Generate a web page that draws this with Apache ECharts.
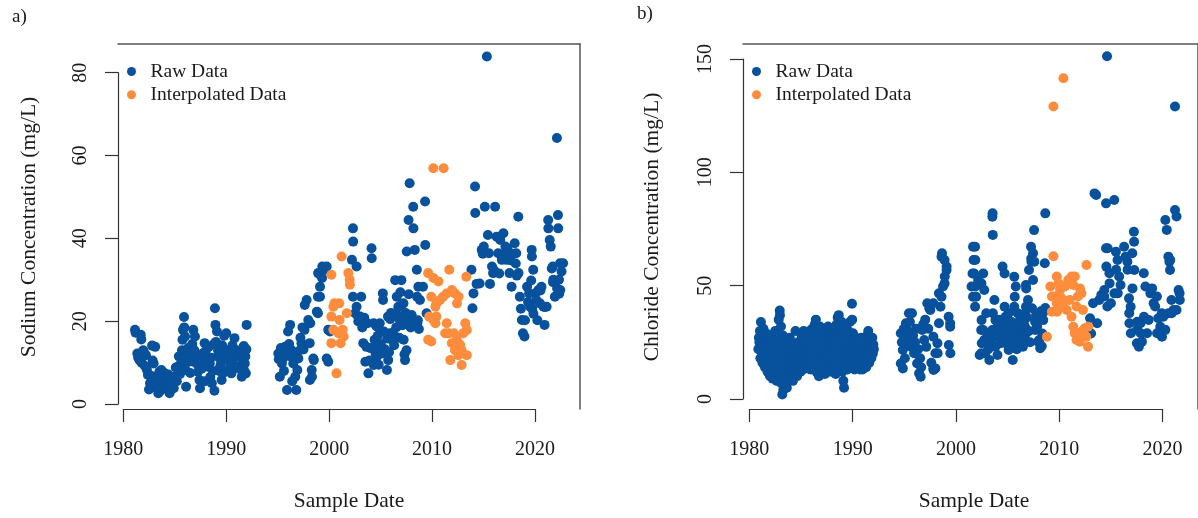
<!DOCTYPE html>
<html><head><meta charset="utf-8">
<script src="https://cdn.jsdelivr.net/npm/echarts@6/dist/echarts.min.js"></script>
<style>html,body{margin:0;padding:0;background:#fff}#c{width:1198px;height:518px}</style>
</head><body><div id="c"></div>
<script>
const yearTicks = [1980, 1990, 2000, 2010, 2020];
const sodiumTicks = [0, 20, 40, 60, 80];
const chlorideTicks = [0, 50, 100, 150];
const seriesNames = ['Raw Data', 'Interpolated Data'];

const sodiumRaw = [
 [1981.14,17.9],[1981.2,17.2],[1981.7,16.7],[1981.75,15.6],[1981.36,12.2],[1981.45,11.2],[1981.94,13],[1981.8,9.9],[1981.6,10.5],[1982.0,12.5],[1982.1,9.2],[1982.2,11.8],[1982.3,8.2],[1982.4,7.0],[1982.5,3.5],[1982.6,5],[1982.7,6.8],[1982.8,14.1],[1982.85,10.5],[1982.9,4.2],[1983.1,13.8],[1982.95,9.8],[1983.2,6.5],[1983.3,4.5],[1983.4,2.6],[1983.5,7.8],[1983.6,3.2],[1983.7,8.2],[1983.8,5.5],[1983.9,5.8],[1984.0,7.5],[1984.1,4.8],[1984.2,6.2],[1984.3,3.5],[1984.4,7.1],[1984.5,2.6],[1984.6,4.2],[1984.7,5],[1984.8,6.5],[1984.9,3.8],[1985.0,6.6],[1985.1,8.8],[1985.2,5.5],[1985.3,9],[1985.4,11.5],[1985.5,7.2],[1985.6,9.8],[1985.7,13],[1985.75,15.5],[1985.8,17.9],[1985.85,12.5],[1985.9,21],[1985.92,18.5],[1985.95,10.5],[1986.0,16.3],[1986.05,8.2],[1986.1,4.2],[1986.2,11.4],[1986.3,13.5],[1986.4,10.2],[1986.5,7.5],[1986.6,12],[1986.7,14.5],[1986.8,17.9],[1986.85,10.8],[1986.96,16.3],[1986.9,13],[1987.0,12],[1987.1,9.8],[1987.2,11],[1987.25,7.8],[1987.4,5.8],[1987.45,3.8],[1987.5,10.5],[1987.6,8.5],[1987.7,12.2],[1987.8,10.2],[1987.9,14.7],[1987.92,5.5],[1988.0,12.8],[1988.1,11.4],[1988.2,9],[1988.3,13.8],[1988.4,9.8],[1988.45,6.5],[1988.5,11.2],[1988.6,5],[1988.7,8],[1988.8,14.5],[1988.85,3.2],[1988.9,23.1],[1988.95,19.1],[1989.0,15],[1989.1,17.5],[1989.15,11.5],[1989.2,13],[1989.3,8],[1989.4,9],[1989.45,12.2],[1989.5,10],[1989.55,5.8],[1989.6,14.2],[1989.7,7.5],[1989.8,16.5],[1989.9,11],[1990.0,17.1],[1990.1,8.2],[1990.2,13],[1990.3,12.5],[1990.4,9.8],[1990.5,7.4],[1990.55,11],[1990.6,14.2],[1990.7,9.5],[1990.8,15.9],[1990.9,12],[1990.95,8.8],[1991.0,13],[1991.1,11.5],[1991.2,9],[1991.3,8.5],[1991.4,12.2],[1991.5,6.6],[1991.6,10.2],[1991.65,13],[1991.7,14],[1991.75,8],[1991.8,9.8],[1991.85,11.5],[1991.9,7.4],[1991.95,13.2],[1991.98,19.1],
 [1995.05,12.2],[1995.1,10.8],[1995.2,6.6],[1995.3,13.5],[1995.4,9.8],[1995.5,11],[1995.6,8],[1995.7,13.8],[1995.8,12.5],[1995.9,3.4],[1996.0,17.5],[1996.1,14.5],[1996.2,19.1],[1996.25,11.5],[1996.35,13],[1996.4,5.5],[1996.5,9.8],[1996.6,12.2],[1996.7,6.6],[1996.8,3.4],[1996.9,8.2],[1997.0,11],[1997.15,13],[1997.2,16],[1997.3,14.7],[1997.4,18.5],[1997.5,13.2],[1997.6,17.9],[1997.62,23.9],[1997.8,25.1],[1997.96,20.3],[1998.1,14.7],[1998.15,19.5],[1998.12,5.8],[1998.3,8.2],[1998.32,6.6],[1998.45,11],[1998.5,10.6],[1998.8,22.3],[1998.9,25.9],[1998.92,31.6],[1999.1,28.3],[1999.12,31.2],[1999.3,30.4],[1999.32,33.2],[1999.4,32.4],[1999.6,32.4],[1999.75,33.2],[1999.1,25.9],[1998.9,21.9],[1999.75,11],[1999.9,10.2],[1999.9,17.9],[2000.07,17.5],
 [2002.3,42.4],[2002.32,39.2],[2002.2,34.8],[2002.65,33.2],[2002.3,25.9],[2002.5,21.9],[2002.65,23.5],[2002.8,21.1],[2002.82,19.9],[2003.0,21.1],[2003.1,25.9],[2003.2,18.5],[2003.3,14.7],[2003.4,20.8],[2003.6,13.8],[2003.5,10.2],[2003.7,19.5],[2003.8,7.4],[2003.9,10.5],[2004.0,13.5],[2004.1,37.6],[2004.12,35.2],[2004.3,19.5],[2004.32,9.4],[2004.4,15.5],[2004.5,12.2],[2004.6,18.7],[2004.62,11.4],[2004.7,16.5],[2004.75,13.8],[2004.8,9.5],[2004.9,19.5],[2005.0,14.5],[2005.1,12.2],[2005.2,26.7],[2005.22,25.1],[2005.3,17.5],[2005.4,13.2],[2005.6,8.2],[2005.62,15.8],[2005.7,21.1],[2005.72,10.6],[2005.8,12.5],[2005.9,17.1],[2005.92,20.5],[2006.0,22],[2006.1,15.5],[2006.2,17.2],[2006.3,14.2],[2006.4,29.9],[2006.5,18.5],[2006.55,25.9],[2006.6,21.5],[2006.7,23.5],[2006.8,16],[2006.85,20.3],[2006.9,27],[2007.0,29.9],[2007.02,24],[2007.1,19],[2007.2,24.3],[2007.22,15.5],[2007.3,12],[2007.35,10.6],[2007.4,22],[2007.5,13],[2007.52,36.8],[2007.6,20.5],[2007.7,44.4],[2007.72,26.5],[2007.8,53.3],[2007.9,18.5],[2008.0,21.5],[2008.15,47.6],[2008.17,42.4],[2008.2,19.8],[2008.3,37.2],[2008.5,32.4],[2008.52,25.9],[2008.54,19.5],[2008.6,20.2],[2008.65,28.3],[2008.7,18.1],[2008.8,25.1],[2009.1,28.3],[2009.3,48.9],[2009.32,38.4],[2009.45,21.9],
 [2013.8,32.4],[2014.0,26.7],[2013.9,23.1],[2014.15,52.5],[2014.17,46.1],[2014.3,29],[2014.6,29.1],[2014.8,37.2],[2014.9,36.3],[2015.0,38],[2015.1,47.6],[2015.3,83.9],[2015.4,40.8],[2015.5,36.4],[2015.6,29],[2015.8,33.2],[2015.9,31.6],[2016.0,32.3],[2016.1,47.6],[2016.25,40.4],[2016.4,36.4],[2016.5,31.5],[2016.6,39.6],[2016.75,34.8],[2016.9,41.2],[2017.0,36.3],[2017.1,38],[2017.2,34.8],[2017.3,37.5],[2017.4,36.4],[2017.5,31.6],[2017.6,34.7],[2017.7,28.3],[2017.75,36.3],[2018.0,38.8],[2018.1,33.9],[2018.15,36.4],[2018.2,31],[2018.35,45.2],[2018.37,31.6],[2018.5,25.9],[2018.6,23],[2018.7,20.3],[2018.8,17.1],[2018.95,16.3],[2019.0,20.2],[2019.2,28.3],[2019.3,24.6],[2019.4,26.7],[2019.5,23.5],[2019.6,29.8],[2019.65,37.2],[2019.67,35.6],[2019.7,23],[2019.8,32.4],[2019.82,21.8],[2020.0,26.7],[2020.1,25.1],[2020.2,20.2],[2020.3,27.5],[2020.45,24.3],[2020.5,27.4],[2020.6,28.3],[2020.8,23.5],[2020.9,19.1],[2020.92,23.4],[2021.1,23.5],[2021.25,44.4],[2021.27,42.4],[2021.4,39.6],[2021.5,38],[2021.6,32.7],[2021.7,33.2],[2021.72,29.4],[2021.75,30],[2021.9,25.9],[2022.1,64.2],[2022.12,27.9],[2022.2,45.6],[2022.22,42.4],[2022.3,30],[2022.32,26.6],[2022.4,34],[2022.42,27.5],[2022.55,32],[2022.7,34]
];

const sodiumInterp = [
 [2000.2,31.2],[2001.2,35.6],[2000.4,23.5],[2000.5,24.3],[2000.97,24.3],[2000.2,21.1],[2001.0,20.3],[2001.7,21.9],[2000.4,17.9],[2000.9,17.1],[2001.3,17.9],[2001.4,16.3],[2001.1,14.7],[2000.2,14.7],[2000.7,7.4],[2001.85,31.6],[2001.98,30],[2002.0,28.8],
 [2009.6,31.6],[2010.1,56.9],[2011.1,56.9],[2010.1,30.4],[2010.6,29.6],[2011.65,32.4],[2013.3,30.7],[2009.9,25.9],[2009.7,21.1],[2009.6,15.5],[2009.9,15.1],[2010.1,20.3],[2010.3,23.5],[2010.4,24.3],[2010.75,25.1],[2011.05,25.9],[2010.4,21.1],[2010.3,19.5],[2011.4,26.7],[2011.9,27.5],[2012.2,26.7],[2012.55,25.9],[2012.4,24.3],[2011.4,19.5],[2011.6,17.1],[2011.25,17.1],[2012.1,17.1],[2012.4,15.5],[2011.9,14.7],[2012.2,13],[2012.7,14.3],[2012.85,13],[2013.2,19.5],[2013.35,17.9],[2013.0,17.1],[2011.75,10.6],[2012.85,9.4],[2013.35,11.8],[2012.55,11.8]
];

const chlorideRaw = [
 [1980.9,22],[1980.95,27],[1981.0,25],[1981.05,30],[1981.1,18],[1981.15,34],[1981.2,21],[1981.25,28],[1981.3,16],[1981.35,24],[1981.4,31],[1981.45,19],[1981.5,26],[1981.55,14],[1981.6,22],[1981.65,29],[1981.7,17],[1981.75,25],[1981.8,12],[1981.85,20],[1981.9,27],[1981.95,15],
 [1982.0,23],[1982.05,10],[1982.1,18],[1982.15,28],[1982.2,13],[1982.25,21],[1982.3,9],[1982.35,16],[1982.4,25],[1982.45,12],[1982.5,19],[1982.55,30],[1982.6,14],[1982.65,22],[1982.7,8],[1982.75,17],[1982.8,26],[1982.85,11],[1982.9,35],[1982.95,20],
 [1983.0,39],[1983.02,37],[1983.05,14],[1983.1,24],[1983.12,32],[1983.15,7],[1983.2,18],[1983.25,2],[1983.3,11],[1983.32,28],[1983.35,4],[1983.4,21],[1983.45,15],[1983.5,8],[1983.55,25],[1983.6,12],[1983.65,19],[1983.7,5],[1983.75,16],[1983.8,23],[1983.85,10],[1983.9,20],[1983.95,13],
 [1984.0,27],[1984.05,9],[1984.1,17],[1984.15,22],[1984.2,12],[1984.25,19],[1984.3,8],[1984.35,15],[1984.4,24],[1984.45,11],[1984.5,18],[1984.55,30],[1984.6,14],[1984.65,21],[1984.7,10],[1984.75,17],[1984.8,25],[1984.85,13],[1984.9,20],[1984.95,15],
 [1985.0,23],[1985.05,12],[1985.1,19],[1985.15,28],[1985.2,15],[1985.25,22],[1985.3,13],[1985.35,30],[1985.4,18],[1985.45,25],[1985.5,14],[1985.55,21],[1985.6,29],[1985.65,17],[1985.7,24],[1985.75,19],[1985.8,27],[1985.85,16],[1985.9,22],[1985.95,30],
 [1986.0,13],[1986.05,20],[1986.1,26],[1986.15,17],[1986.2,31],[1986.25,23],[1986.3,15],[1986.35,28],[1986.4,19],[1986.45,33],[1986.5,24],[1986.55,35],[1986.6,12],[1986.65,21],[1986.7,30],[1986.75,16],[1986.8,26],[1986.85,10],[1986.9,22],[1986.95,32],
 [1987.0,14],[1987.05,25],[1987.1,19],[1987.15,31],[1987.2,12],[1987.25,23],[1987.3,28],[1987.35,17],[1987.4,26],[1987.45,11],[1987.5,21],[1987.55,30],[1987.6,15],[1987.65,24],[1987.7,19],[1987.75,32],[1987.8,13],[1987.85,22],[1987.9,27],[1987.95,16],
 [1988.0,24],[1988.05,12],[1988.1,29],[1988.15,18],[1988.2,26],[1988.25,14],[1988.3,21],[1988.35,31],[1988.4,16],[1988.45,27],[1988.5,11],[1988.55,23],[1988.6,33],[1988.65,19],[1988.7,36],[1988.75,25],[1988.8,37],[1988.85,14],[1988.9,30],[1988.95,21],
 [1989.0,28],[1989.05,17],[1989.1,34],[1989.15,12],[1989.2,24],[1989.25,8],[1989.3,19],[1989.32,5],[1989.35,29],[1989.4,14],[1989.45,22],[1989.5,31],[1989.55,17],[1989.6,26],[1989.65,13],[1989.7,21],[1989.75,30],[1989.8,16],[1989.85,24],[1989.9,34],[1989.95,19],
 [1990.0,27],[1990.05,14],[1990.1,42],[1990.12,35],[1990.15,22],[1990.2,29],[1990.25,16],[1990.3,24],[1990.35,13],[1990.4,20],[1990.45,27],[1990.5,15],[1990.55,22],[1990.6,18],[1990.65,26],[1990.7,14],[1990.75,21],[1990.8,17],[1990.85,25],[1990.9,13],[1990.95,20],
 [1991.0,27],[1991.05,16],[1991.1,22],[1991.15,13],[1991.2,19],[1991.25,26],[1991.3,15],[1991.35,21],[1991.4,17],[1991.45,24],[1991.5,14],[1991.55,20],[1991.6,28],[1991.65,18],[1991.7,30],[1991.75,23],[1991.8,16],[1991.85,27],[1991.9,20],[1991.95,25],[1992.0,18],[1992.05,23],[1992.1,27],[1992.15,20],[1992.2,24],[1992.25,22],
 [1994.9,29],[1995.1,21.6],[1994.9,15.7],[1995.1,13.5],[1995.4,33.4],[1995.7,37.8],[1996.0,37.8],[1995.6,27.5],[1995.9,23.1],[1996.2,20.2],[1996.5,15.7],[1996.7,11.3],[1996.85,9.8],[1997.0,30.4],[1997.2,26],[1997.5,42.2],[1997.7,40],[1997.8,39.3],[1998.1,13.5],[1998.3,13.5],[1998.5,24.6],[1998.52,20.2],[1998.65,33.4],[1998.8,40.7],[1998.65,46.6],[1998.9,62.8],[1999.2,61.3],[1999.4,58.4],[1999.22,54],[1999.05,49.6],[1998.9,45.1],[1999.6,36.3],[1999.75,33.4],[1999.62,23.8],[1999.77,20.2],[1998.1,42.2],[1998.95,64.3],[1999.4,56.9],[1999.2,51],[1999.75,31.9],[1998.1,27.5],[1998.3,20.2],[1998.12,12.8],
 [1995.0,25],[1995.2,31],[1995.3,18],[1995.5,24],[1995.6,30],[1995.8,34],[1996.1,28],[1996.3,25],[1996.4,31],[1996.6,22],[1996.8,18],[1996.9,14],[1997.1,33],[1997.3,35],[1997.4,23],[1997.6,31],[1997.9,16],
 [2002.0,67.2],[2002.05,61.3],[2001.95,55.4],[2001.85,49.6],[2002.0,45.1],[2002.2,40.7],[2002.65,51],[2002.8,30.4],[2002.8,20.2],[2002.2,67.2],[2002.22,61.3],[2002.1,55.4],[2002.24,49.6],[2002.3,45.1],[2003.0,55.4],[2002.82,51],[2003.1,48.1],[2002.5,52.5],[2002.84,34.8],[2003.3,37.8],[2003.0,30.4],[2003.1,26],[2003.4,28.9],[2002.86,24.6],[2002.65,19.4],[2003.2,20.2],[2003.6,17.2],[2003.9,80.4],[2003.92,81.9],[2003.94,72.4],[2004.1,43.7],[2003.95,37.8],[2004.2,34.8],[2004.4,31.9],[2003.9,30.4],[2004.1,27.5],[2003.75,24.6],[2004.2,23.1],[2004.5,27.5],[2004.7,24.6],[2004.4,19.4],[2004.9,58.4],[2005.1,55.4],[2005.2,36.3],[2005.1,40.7],[2005.4,30.4],[2005.5,37.8],[2005.7,27.5],[2005.2,24.6],[2005.5,21.6],[2005.9,17.2],[2006.05,53.9],[2006.2,49.6],[2006.1,45.1],[2006.05,40.7],[2006.4,37.8],[2006.2,33.4],[2006.5,31.9],[2006.05,28.9],[2006.4,26],[2006.8,28.9],[2006.9,34.8],[2007.1,37.8],[2007.2,50.3],[2007.22,48.8],[2007.4,43.7],[2007.2,40.7],[2007.1,31.9],[2007.2,28.9],[2007.1,26],[2006.9,23.1],[2007.7,67.2],[2007.9,64.3],[2007.72,62],[2008.0,74.5],[2007.74,60.6],[2008.02,60.6],[2007.5,56.9],[2007.9,52.5],[2008.1,34.1],[2008.12,30.4],[2008.4,25.3],[2008.6,22.4],[2009.1,81.9],[2009.05,59.9],[2009.1,40.1],[2008.9,34.8],[2008.8,28.9],[2008.7,38.8],[2008.9,38.2],[2008.5,26],[2008.75,23.3],
 [2003.5,22],[2003.7,26],[2004.6,35],[2004.8,30],[2005.0,33],[2005.3,28],[2005.6,31],[2005.8,34],[2006.0,24],[2006.3,22],[2006.6,37],[2006.7,27],[2007.0,33],[2007.3,36],[2007.5,30],[2007.6,25],[2007.8,40],[2008.2,37],[2008.3,32],
 [2013.5,35.6],[2013.8,42.2],[2013.3,30.4],[2013.6,28.9],[2014.2,33.4],[2013.94,90.7],[2014.1,90],[2015.07,86.3],[2015.17,151.2],[2015.88,87.8],[2014.4,43.7],[2014.6,45.9],[2014.9,48.1],[2015.07,66.5],[2015.23,66.5],[2015.1,58.4],[2015.4,55.5],[2015.42,51],[2014.9,45.2],[2015.2,40.8],[2015.55,42.2],[2016.04,65],[2016.2,61.3],[2016.06,57],[2016.36,54],[2016.5,50.3],[2016.22,46.6],[2015.9,46.6],[2016.85,67.2],[2017.0,62.8],[2017.17,60.6],[2017.19,57],[2017.81,73.8],[2017.83,69.4],[2017.65,64.3],[2017.85,56.9],[2017.67,48.8],[2017.33,44.4],[2017.49,40.7],[2017.35,37.8],[2017.37,33.4],[2017.51,29],[2018.1,24.6],[2018.3,23.1],[2018.6,25.3],[2018.78,55.5],[2018.94,49.6],[2018.46,33.4],[2018.8,36.3],[2019.1,29],[2019.26,34.9],[2018.12,30.5],[2018.48,29],[2018.14,34.1],[2019.43,46.6],[2019.75,42.2],[2019.6,48.8],[2020.07,45.2],[2019.9,40.8],[2020.2,35.6],[2020.55,37.8],[2020.7,36.3],[2020.4,31.9],[2020.09,29],[2020.57,27.5],[2020.9,30.5],[2021.2,37.8],[2020.9,79],[2021.04,74.6],[2021.2,62.8],[2021.3,60.6],[2021.36,56.9],[2021.5,43.7],[2021.7,39.3],[2021.85,129],[2021.85,83.4],[2022.0,80.5],[2022.2,48.1],[2022.3,46.6],[2022.32,43.7],[2022.0,39.3],[2021.52,37.8],[2021.38,61.3]
];

const chlorideInterp = [
 [2010.88,141.5],[2009.9,129],[2009.9,63],[2013.15,59.1],[2009.26,27.5],[2009.6,49.6],[2009.75,45.2],[2010.23,54],[2010.4,51],[2010.55,48.1],[2010.07,45.2],[2010.23,42.2],[2009.75,38.5],[2010.25,38.5],[2010.7,44.4],[2010.88,40.8],[2011.04,49.6],[2011.36,52.5],[2011.68,54],[2012.0,54],[2011.85,50.3],[2011.5,43.7],[2011.2,39.3],[2011.68,36.3],[2012.5,48.8],[2012.65,46.6],[2012.3,45.2],[2012.17,40.8],[2012.8,39.3],[2011.85,31.9],[2012.0,29],[2012.3,28.3],[2012.65,29.7],[2012.97,31.2],[2013.3,31.9],[2012.5,25.3],[2012.17,26],[2013.13,27.5],[2013.3,23.1]
];

const FONT = '"Liberation Serif","Times New Roman",serif';
const BLUE = '#08519c', ORANGE = '#fd8d3c';
const TXT = '#1a1a1a';

const panels = [
 {left:118, xMin:1979.49, xMax:2024.34, yMin:-1.2, yMax:86.9, yTickTop:72.7, yTickH:331.3, xTickLeft:123.3, xTickW:411.7, ticks:sodiumTicks, raw:sodiumRaw, interp:sodiumInterp, legendLeft:122},
 {left:743, xMin:1979.39, xMax:2024.11, yMin:-4.41, yMax:156.6, yTickTop:59, yTickH:340, xTickLeft:749.3, xTickW:413.3, ticks:chlorideTicks, raw:chlorideRaw, interp:chlorideInterp, legendLeft:747}
];

const grid = [], xAxis = [], yAxis = [], series = [], legend = [];
panels.forEach((p, i) => {
  const g = i * 3;
  grid.push({left:p.left, top:44, width:462, height:365});
  grid.push({left:p.left, top:p.yTickTop, width:462, height:p.yTickH});
  grid.push({left:p.xTickLeft, top:44, width:p.xTickW, height:365});
  const boxLine = {show:true, onZero:false, lineStyle:{color:'#555', width:1.5}};
  xAxis.push({gridIndex:g, type:'value', min:p.xMin, max:p.xMax, position:'top', axisLine:boxLine, axisTick:{show:false}, axisLabel:{show:false}, splitLine:{show:false}});
  yAxis.push({gridIndex:g, type:'value', min:p.yMin, max:p.yMax, position:'right', axisLine:boxLine, axisTick:{show:false}, axisLabel:{show:false}, splitLine:{show:false}});
  xAxis.push({gridIndex:g+1, type:'value', show:false, min:0, max:1});
  yAxis.push({gridIndex:g+1, type:'value', min:p.ticks[0], max:p.ticks[p.ticks.length-1], interval:p.ticks[1]-p.ticks[0], position:'left',
    axisLine:{show:true, onZero:false, lineStyle:{color:'#333', width:1.2}},
    axisTick:{show:true, length:13, lineStyle:{color:'#333', width:1.2}},
    axisLabel:{rotate:90, margin:27, fontSize:20, fontFamily:FONT, color:TXT, formatter:v => String(v)}, splitLine:{show:false}});
  xAxis.push({gridIndex:g+2, type:'value', min:yearTicks[0], max:yearTicks[yearTicks.length-1], interval:yearTicks[1]-yearTicks[0], position:'bottom',
    axisLine:{show:true, onZero:false, lineStyle:{color:'#333', width:1.2}},
    axisTick:{show:true, length:13, lineStyle:{color:'#333', width:1.2}},
    axisLabel:{margin:31, fontSize:20, fontFamily:FONT, color:TXT, formatter:v => String(v)}, splitLine:{show:false}});
  yAxis.push({gridIndex:g+2, type:'value', show:false, min:0, max:1});
  series.push({type:'scatter', name:seriesNames[0], xAxisIndex:g, yAxisIndex:g, data:p.raw, symbolSize:10, itemStyle:{color:BLUE, opacity:1}, silent:true, animation:false});
  series.push({type:'scatter', name:seriesNames[1], xAxisIndex:g, yAxisIndex:g, data:p.interp, symbolSize:10, itemStyle:{color:ORANGE, opacity:1}, silent:true, animation:false});
  legend.push({data:seriesNames, orient:'vertical', left:p.legendLeft, top:56.5, icon:'circle', itemWidth:28, itemHeight:9, itemGap:3.3,
    textStyle:{fontSize:19.5, fontFamily:FONT, color:TXT}, selectedMode:false});
});

const graphic = [
  {type:'text', left:12, top:8, style:{text:'a)', fontSize:19, fontFamily:FONT, fill:TXT}},
  {type:'text', left:637, top:5, style:{text:'b)', fontSize:19, fontFamily:FONT, fill:TXT}},
  {type:'text', x:29, y:227, rotation:Math.PI/2, style:{text:'Sodium Concentration (mg/L)', fontSize:21.5, fontFamily:FONT, fill:TXT, align:'center', verticalAlign:'middle'}},
  {type:'text', x:652, y:227, rotation:Math.PI/2, style:{text:'Chloride Concentration (mg/L)', fontSize:21.5, fontFamily:FONT, fill:TXT, align:'center', verticalAlign:'middle'}},
  {type:'text', x:349, y:501, style:{text:'Sample Date', fontSize:21.5, fontFamily:FONT, fill:TXT, align:'center', verticalAlign:'middle'}},
  {type:'text', x:974, y:501, style:{text:'Sample Date', fontSize:21.5, fontFamily:FONT, fill:TXT, align:'center', verticalAlign:'middle'}}
];

const chart = echarts.init(document.getElementById('c'), null, {renderer:'canvas'});
chart.setOption({animation:false, backgroundColor:'#fff', grid, xAxis, yAxis, series, legend, graphic});
</script></body></html>
